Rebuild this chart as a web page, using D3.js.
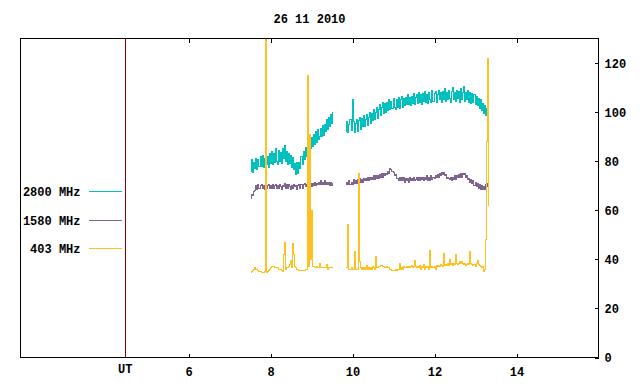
<!DOCTYPE html>
<html>
<head>
<meta charset="utf-8">
<script src="https://cdn.jsdelivr.net/npm/d3@7"></script>
<style>
  body { margin: 0; background: #fff; }
  svg text { font-family: "Liberation Mono", "DejaVu Sans Mono", monospace; font-weight: bold; font-size: 12px; }
</style>
</head>
<body>
<svg id="chart" width="640" height="384"></svg>
<script>
// decimal UT hours; each segment is sampled every sampleStep hours
const seg1Start = 7.53, seg2Start = 9.85, sampleStep = 0.025;

const f2800a = [76, 80.5, 75.5, 79.5, 77, 81, 76.5, 80.5, 78, 82,
  78, 82.5, 77.5, 81, 84, 78.5, 82, 77.5, 83, 79,
  84, 78.5, 83, 79.5, 85, 80, 78.5, 84.5, 80, 83.5,
  79, 85, 81, 86.5, 80, 84, 78.5, 83, 79, 82.5,
  77.5, 81.5, 76.5, 79, 74.5, 79.5, 75, 79.5, 77, 82,
  78.5, 84, 80.5, 85.5, 82, 87, 83, 88.5, 85, 89.5,
  86, 91, 87, 92, 87.5, 93, 89, 90, 93.5, 90,
  94.5, 90.5, 95, 92, 97, 93, 98, 94, 99, 95.5, 100];
const f2800b = [92, 96, 91.5, 95, 97, 92.5, 105, 96, 91.5, 95.5,
  97, 92, 96.5, 98, 93, 97.5, 94, 98.5, 94, 97,
  99, 94.5, 98, 100, 95.5, 99.5, 96.5, 101, 97, 100,
  102, 97.5, 101, 103, 98.5, 102, 104, 99.5, 103.5, 100,
  104, 100.5, 105, 101, 104.5, 101.5, 105.5, 102, 101, 105,
  102, 106, 101.5, 105, 106.5, 102, 105.5, 102.5, 106, 103,
  107, 103, 106, 102.5, 106.5, 103.5, 107.5, 103, 106, 107,
  103.5, 108, 104, 107, 103, 107.5, 104.5, 108.5, 104, 107,
  103.5, 108, 105, 104, 109, 104.5, 107.5, 108.5, 104, 107,
  109, 105, 108, 104, 108.5, 105, 109.5, 104.5, 108, 105,
  109, 105.5, 104, 108.5, 110, 105, 108, 104.5, 109, 105.5,
  108.5, 104, 109.5, 105, 108, 110.5, 104.5, 108, 105, 109,
  104, 108, 103.5, 107.5, 104, 107, 103, 106.5, 102.5, 105.5,
  101.5, 105, 100.5, 103.5, 99.5, 102.5, 98.5, 101.5, 97.5, 100];

const f1580a = [65, 66.5, 66, 67.5, 68, 70, 68.5, 70.5, 69, 70,
  70.5, 69, 70, 68.5, 70.5, 69, 70, 70.5, 69, 70,
  69, 70.5, 69, 70, 70.5, 69, 70, 69, 70.5, 69.5,
  68.5, 70, 69.5, 71, 69, 70.5, 69, 70.5, 69.5, 68.5,
  70, 69, 70.5, 69.5, 70, 68.5, 70, 70.5, 69, 70.5,
  69, 70.5, 71, 69.5, 70.5, 71, 69.5, 70, 71, 69.5,
  71, 70, 71.5, 70, 71, 70.5, 71.5, 70.5, 72, 70.5,
  71.5, 70.5, 72, 70.5, 71.5, 70.5, 71.5, 70, 71.5, 70, 71];
const f1580b = [70.5, 71.5, 70.5, 72, 70.5, 71.5, 70.5, 72.5, 71, 72,
  71, 72.5, 71.5, 73, 71.5, 72.5, 71.5, 73, 72, 73,
  72, 73.5, 72, 73.5, 72.5, 73.5, 72.5, 74, 72.5, 74,
  73, 74, 73, 74.5, 73.5, 75, 73.5, 75, 74, 75,
  74.5, 76, 75, 77, 76.5, 76, 75.5, 74, 74.5, 73,
  73, 72, 73.5, 72, 73.5, 72, 73.5, 71.5, 73, 72,
  73, 71.5, 73.5, 72, 73, 72, 73.5, 72, 72.5, 73.5,
  72, 73.5, 72, 73.5, 72.5, 73.5, 72, 73.5, 72.5, 74,
  72, 73.5, 72, 74, 72.5, 73.5, 73, 74, 73.5, 74.5,
  73.5, 75, 74, 75.5, 74.5, 75.5, 74, 74.5, 73, 73.5,
  73, 72.5, 73.5, 72, 73.5, 72.5, 74, 72.5, 74, 73.5,
  74.5, 73.5, 75, 73.5, 75, 74.5, 75, 73.5, 74, 72.5,
  73, 71.5, 72.5, 71, 72, 70, 71.5, 69.5, 71, 69,
  70.5, 68.5, 70, 68.5, 69.5, 68.5, 70.5, 69.5, 71, 70];

const f403a = [34.5, 35, 35.5, 36, 36.5, 36, 36, 35.5, 35, 35,
  34.5, 34.5, 34.5, 35, 150, 34.5, 35, 35.5, 36, 36.5,
  37, 37, 37, 36.5, 36.5, 36.5, 36.5, 36, 36, 36,
  35.5, 35, 42, 47, 36, 36.5, 36.5, 37, 38, 39.5,
  36.5, 46.5, 42, 37, 36.5, 36, 36, 35.5, 35.5, 35.5,
  35.5, 35.5, 35.5, 36, 36, 115, 37, 91, 40, 60,
  37, 37, 36.5, 36.5, 37, 36.5, 36.5, 38.5, 36.5, 36.5,
  36.5, 36.5, 36.5, 36.5, 38, 36, 36.5, 36.5, 36.5, 36.5, 36.5];
const f403b = [36.5, 36.5, 54, 36, 36, 36.5, 36, 36, 43, 36,
  36, 36, 75, 39, 36.5, 36, 36.5, 36, 36.5, 36,
  37.5, 36, 36.5, 36, 36.5, 36, 37, 36.5, 36, 41,
  36.5, 36.5, 37, 37, 37.5, 37.5, 37, 37, 36.5, 36.5,
  37, 36.5, 36.5, 36, 36, 35.5, 35.5, 35.5, 36, 35.5,
  36, 36, 38.5, 36, 36.5, 36, 37, 36.5, 36.5, 37,
  36.5, 37, 36.5, 37, 37.5, 36.5, 37, 39.5, 37, 36.5,
  37, 36.5, 37.5, 36, 37, 36.5, 38, 36, 37, 36.5,
  37, 36, 43.5, 36.5, 37, 36.5, 37, 36, 37.5, 37,
  37.5, 37, 38, 37.5, 37, 42.5, 37.5, 38, 37.5, 38.5,
  37.5, 40, 38, 38.5, 37.5, 38.5, 38, 42, 38.5, 38,
  38.5, 39, 38.5, 39, 38.5, 38, 38.5, 37.5, 38, 38.5,
  38, 43, 38.5, 38, 37.5, 38, 37, 38.5, 39.5, 38,
  37.5, 37, 36.5, 37, 35, 36, 48, 88, 122, 62];

const seriesNames = ["2800 MHz", "1580 MHz", "403 MHz"];
const seriesColors = ["#00c0c0", "#7e6490", "#ffc020"];
const seriesData = [[f2800a, f2800b], [f1580a, f1580b], [f403a, f403b]];

const xTicks = [6, 8, 10, 12, 14];
const yTicks = [0, 20, 40, 60, 80, 100, 120];
const utMark = 4.456;
const title = "26 11 2010";

let margin = { top: 38, right: 42, bottom: 27, left: 20 },
  width = 640 - margin.left - margin.right,
  height = 384 - margin.top - margin.bottom;

let svg = d3.select("#chart")
  .append("g")
  .attr("transform", "translate(" + (margin.left + 0.5) + "," + (margin.top + 0.5) + ")");

let x = d3.scaleLinear().domain([1.9, 16]).range([0, width]);
let y = d3.scaleLinear().domain([0, 130]).range([height, 0]);

svg.append("defs").append("clipPath").attr("id", "plotclip")
  .append("rect").attr("width", width).attr("height", height);

// series, 403 MHz drawn last so it sits on top
let line = d3.line().curve(d3.curveStep).x(d => x(d.t)).y(d => y(d.v));
seriesData.forEach((segs, k) => {
  [seg1Start, seg2Start].forEach((start, s) => {
    let pts = segs[s].map((v, i) => ({ t: start + i * sampleStep, v: v }));
    svg.append("path")
      .attr("clip-path", "url(#plotclip)")
      .attr("d", line(pts))
      .attr("fill", "none")
      .attr("stroke", seriesColors[k])
      .attr("stroke-width", 1)
      .attr("shape-rendering", "crispEdges");
  });
});

// UT marker line
svg.append("line")
  .attr("x1", Math.round(x(utMark))).attr("x2", Math.round(x(utMark)))
  .attr("y1", 0).attr("y2", height)
  .attr("stroke", "#8b0000")
  .attr("shape-rendering", "crispEdges");

// frame
svg.append("rect")
  .attr("width", width).attr("height", height)
  .attr("fill", "none").attr("stroke", "#000")
  .attr("shape-rendering", "crispEdges");

let xAxis = svg.append("g")
  .attr("transform", "translate(0," + height + ")")
  .call(d3.axisBottom(x).tickValues(xTicks).tickSizeInner(-4).tickSizeOuter(0).tickPadding(10));
let xTop = svg.append("g")
  .call(d3.axisTop(x).tickValues(xTicks).tickSizeInner(-4).tickSizeOuter(0).tickFormat(""));
let yAxis = svg.append("g")
  .attr("transform", "translate(" + width + ",0)")
  .call(d3.axisRight(y).tickValues(yTicks).tickSizeInner(-4).tickSizeOuter(0).tickPadding(6));

[xAxis, xTop, yAxis].forEach(g => {
  g.select(".domain").remove();
  g.selectAll(".tick line").attr("stroke", "#000").attr("shape-rendering", "crispEdges");
  g.selectAll("text").attr("fill", "#000").attr("font-size", null).attr("font-family", null);
});
yAxis.selectAll("text").attr("dy", "0.36em");

svg.append("text")
  .attr("x", x(utMark)).attr("y", height + 15)
  .attr("text-anchor", "middle")
  .text("UT");

svg.append("text")
  .attr("x", width / 2).attr("y", -16)
  .attr("text-anchor", "middle")
  .text(title);

// legend on the left
seriesNames.forEach((name, k) => {
  let ly = 153 + k * 28.5;
  svg.append("text")
    .attr("x", 60).attr("y", ly + 4.5)
    .attr("text-anchor", "end")
    .text(name);
  svg.append("line")
    .attr("x1", 68).attr("x2", 101)
    .attr("y1", Math.round(ly)).attr("y2", Math.round(ly))
    .attr("stroke", seriesColors[k])
    .attr("shape-rendering", "crispEdges");
});
</script>
</body>
</html>
